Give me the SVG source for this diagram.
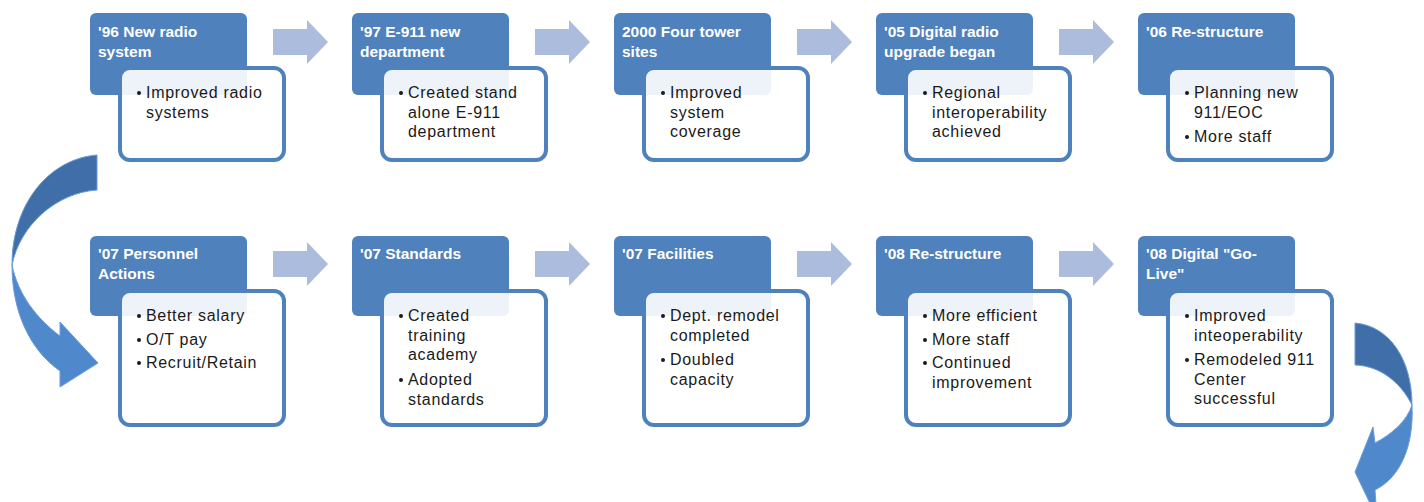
<svg xmlns="http://www.w3.org/2000/svg" xmlns:xlink="http://www.w3.org/1999/xlink" width="1424" height="502" viewBox="0 0 1424 502">
  <defs>
    <style>
      .hdr { fill: #4f81bd; }
      .card { fill: #ffffff; fill-opacity: 0.9; stroke: #4f81bd; stroke-width: 4; }
      .title { font-family: "Liberation Sans", Arial, sans-serif; font-weight: bold; font-size: 15.5px; fill: #ffffff; }
      .body { font-family: "Liberation Sans", Arial, sans-serif; font-size: 16px; letter-spacing: 0.7px; fill: #1a1a1a; }
      .dot { fill: #1a1a1a; }
      .step { fill: #abbcdd; }
      .turn-back { fill: #3f6ea8; stroke: #6b9cd8; stroke-width: 1; }
      .turn-front { fill: #5088cc; stroke: #6b9cd8; stroke-width: 1; }
    </style>
    <!-- block arrow between two steps -->
    <path id="step-arrow" d="M0,9 H34 V0 L55,22 L34,44 V35 H0 Z"/>
  </defs>

  <rect width="1424" height="502" fill="#ffffff"/>

  <g id="connectors">
    <use xlink:href="#step-arrow" class="step" x="273" y="20"/>
    <use xlink:href="#step-arrow" class="step" x="535" y="20"/>
    <use xlink:href="#step-arrow" class="step" x="797" y="20"/>
    <use xlink:href="#step-arrow" class="step" x="1059" y="20"/>
    <use xlink:href="#step-arrow" class="step" x="273" y="242"/>
    <use xlink:href="#step-arrow" class="step" x="535" y="242"/>
    <use xlink:href="#step-arrow" class="step" x="797" y="242"/>
    <use xlink:href="#step-arrow" class="step" x="1059" y="242"/>

    <!-- row turn on the left: curls down from row one into row two -->
    <g id="turn-left">
      <path class="turn-back" d="M97,155 C48,159 12,205 12,265 C20,226 55,193 97,190 Z"/>
      <path class="turn-front" d="M12,265 C12,312 30,350 60,371 L60,387 L98,363 L60,322 L60,336 C36,318 18,294 12,265 Z"/>
    </g>
    <!-- turn on the right: curls down past the last step -->
    <g id="turn-right">
      <path class="turn-back" d="M1355,323 C1390,326 1412,360 1412,405 C1401,383 1381,366 1355,365 Z"/>
      <path class="turn-front" d="M1412,405 C1414,445 1401,477 1375,490 L1377,518 L1355,472 L1373,427 L1375,443 C1392,434 1407,421 1412,405 Z"/>
    </g>
  </g>

  <!-- row one -->
  <g id="step-96">
    <rect class="hdr" x="90" y="13" width="157" height="82" rx="6"/>
    <text class="title" x="98" y="37">'96 New radio</text>
    <text class="title" x="98" y="57">system</text>
    <rect class="card" x="120" y="68" width="164" height="92" rx="10"/>
    <circle class="dot" cx="139" cy="93" r="2"/>
    <text class="body" x="146" y="98">Improved radio</text>
    <text class="body" x="146" y="117.5">systems</text>
  </g>

  <g id="step-97">
    <rect class="hdr" x="352" y="13" width="157" height="82" rx="6"/>
    <text class="title" x="360" y="37">'97 E-911 new</text>
    <text class="title" x="360" y="57">department</text>
    <rect class="card" x="382" y="68" width="164" height="92" rx="10"/>
    <circle class="dot" cx="401" cy="93" r="2"/>
    <text class="body" x="408" y="98">Created stand</text>
    <text class="body" x="408" y="117.5">alone E-911</text>
    <text class="body" x="408" y="137">department</text>
  </g>

  <g id="step-2000">
    <rect class="hdr" x="614" y="13" width="157" height="82" rx="6"/>
    <text class="title" x="622" y="37">2000 Four tower</text>
    <text class="title" x="622" y="57">sites</text>
    <rect class="card" x="644" y="68" width="164" height="92" rx="10"/>
    <circle class="dot" cx="663" cy="93" r="2"/>
    <text class="body" x="670" y="98">Improved</text>
    <text class="body" x="670" y="117.5">system</text>
    <text class="body" x="670" y="137">coverage</text>
  </g>

  <g id="step-05">
    <rect class="hdr" x="876" y="13" width="157" height="82" rx="6"/>
    <text class="title" x="884" y="37">'05 Digital radio</text>
    <text class="title" x="884" y="57">upgrade began</text>
    <rect class="card" x="906" y="68" width="164" height="92" rx="10"/>
    <circle class="dot" cx="925" cy="93" r="2"/>
    <text class="body" x="932" y="98">Regional</text>
    <text class="body" x="932" y="117.5">interoperability</text>
    <text class="body" x="932" y="137">achieved</text>
  </g>

  <g id="step-06">
    <rect class="hdr" x="1138" y="13" width="157" height="82" rx="6"/>
    <text class="title" x="1146" y="37">'06 Re-structure</text>
    <rect class="card" x="1168" y="68" width="164" height="92" rx="10"/>
    <circle class="dot" cx="1187" cy="93" r="2"/>
    <text class="body" x="1194" y="98">Planning new</text>
    <text class="body" x="1194" y="117.5">911/EOC</text>
    <circle class="dot" cx="1187" cy="137" r="2"/>
    <text class="body" x="1194" y="142">More staff</text>
  </g>

  <!-- row two -->
  <g id="step-07-personnel">
    <rect class="hdr" x="90" y="236" width="157" height="80" rx="6"/>
    <text class="title" x="98" y="259">'07 Personnel</text>
    <text class="title" x="98" y="279">Actions</text>
    <rect class="card" x="120" y="291" width="164" height="134" rx="10"/>
    <circle class="dot" cx="139" cy="316" r="2"/>
    <text class="body" x="146" y="321">Better salary</text>
    <circle class="dot" cx="139" cy="340" r="2"/>
    <text class="body" x="146" y="345">O/T pay</text>
    <circle class="dot" cx="139" cy="363" r="2"/>
    <text class="body" x="146" y="368">Recruit/Retain</text>
  </g>

  <g id="step-07-standards">
    <rect class="hdr" x="352" y="236" width="157" height="80" rx="6"/>
    <text class="title" x="360" y="259">'07 Standards</text>
    <rect class="card" x="382" y="291" width="164" height="134" rx="10"/>
    <circle class="dot" cx="401" cy="316" r="2"/>
    <text class="body" x="408" y="321">Created</text>
    <text class="body" x="408" y="340.5">training</text>
    <text class="body" x="408" y="360">academy</text>
    <circle class="dot" cx="401" cy="380" r="2"/>
    <text class="body" x="408" y="385">Adopted</text>
    <text class="body" x="408" y="404.5">standards</text>
  </g>

  <g id="step-07-facilities">
    <rect class="hdr" x="614" y="236" width="157" height="80" rx="6"/>
    <text class="title" x="622" y="259">'07 Facilities</text>
    <rect class="card" x="644" y="291" width="164" height="134" rx="10"/>
    <circle class="dot" cx="663" cy="316" r="2"/>
    <text class="body" x="670" y="321">Dept. remodel</text>
    <text class="body" x="670" y="340.5">completed</text>
    <circle class="dot" cx="663" cy="360" r="2"/>
    <text class="body" x="670" y="365">Doubled</text>
    <text class="body" x="670" y="384.5">capacity</text>
  </g>

  <g id="step-08-restructure">
    <rect class="hdr" x="876" y="236" width="157" height="80" rx="6"/>
    <text class="title" x="884" y="259">'08 Re-structure</text>
    <rect class="card" x="906" y="291" width="164" height="134" rx="10"/>
    <circle class="dot" cx="925" cy="316" r="2"/>
    <text class="body" x="932" y="321">More efficient</text>
    <circle class="dot" cx="925" cy="340" r="2"/>
    <text class="body" x="932" y="345">More staff</text>
    <circle class="dot" cx="925" cy="363" r="2"/>
    <text class="body" x="932" y="368">Continued</text>
    <text class="body" x="932" y="387.5">improvement</text>
  </g>

  <g id="step-08-golive">
    <rect class="hdr" x="1138" y="236" width="157" height="80" rx="6"/>
    <text class="title" x="1146" y="259">'08 Digital "Go-</text>
    <text class="title" x="1146" y="279">Live"</text>
    <rect class="card" x="1168" y="291" width="164" height="134" rx="10"/>
    <circle class="dot" cx="1187" cy="316" r="2"/>
    <text class="body" x="1194" y="321">Improved</text>
    <text class="body" x="1194" y="340.5">inteoperability</text>
    <circle class="dot" cx="1187" cy="360" r="2"/>
    <text class="body" x="1194" y="365">Remodeled 911</text>
    <text class="body" x="1194" y="384.5">Center</text>
    <text class="body" x="1194" y="404">successful</text>
  </g>
</svg>
